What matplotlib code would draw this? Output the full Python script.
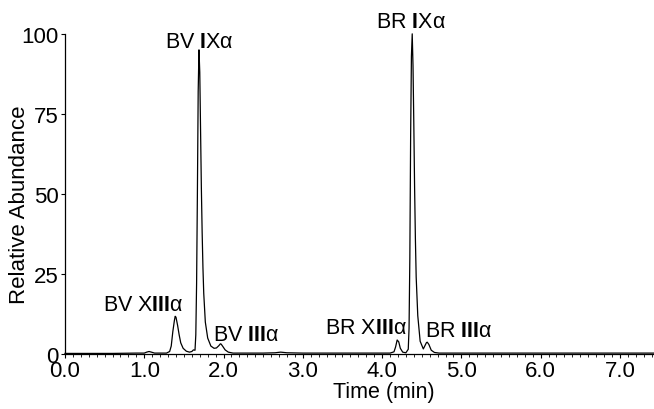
import matplotlib.pyplot as plt
from matplotlib.ticker import MultipleLocator

plt.rcParams['font.family'] = ['Liberation Sans', 'DejaVu Sans']
plt.rcParams['mathtext.fontset'] = 'custom'
plt.rcParams['mathtext.rm'] = 'Liberation Sans'
plt.rcParams['mathtext.bf'] = 'Liberation Sans:bold'

# trace (time in min, relative abundance in %)
time = [0.00, 0.30, 0.60, 0.90, 1.00, 1.03, 1.06, 1.09, 1.13, 1.20, 1.28, 1.32,
        1.34, 1.36, 1.38, 1.39, 1.40, 1.42, 1.44, 1.46, 1.49, 1.53, 1.57, 1.60,
        1.62, 1.64, 1.65, 1.66, 1.67, 1.68, 1.69, 1.70, 1.71, 1.72, 1.73, 1.74,
        1.75, 1.77, 1.80, 1.84, 1.88, 1.91, 1.94, 1.96, 1.97, 1.99, 2.02, 2.06,
        2.12, 2.30, 2.50, 2.65, 2.72, 2.80, 3.00, 3.30, 3.60, 3.90, 4.10, 4.15,
        4.17, 4.19, 4.21, 4.23, 4.26, 4.30, 4.33, 4.34, 4.35, 4.36, 4.37, 4.38,
        4.39, 4.40, 4.41, 4.42, 4.43, 4.45, 4.48, 4.52, 4.54, 4.56, 4.57, 4.59,
        4.62, 4.66, 4.72, 5.00, 5.50, 6.00, 6.50, 7.00, 7.43]
abundance = [0.2, 0.2, 0.2, 0.3, 0.3, 0.6, 0.8, 0.6, 0.3, 0.3, 0.3, 0.8,
             2.5, 7.0, 10.5, 11.8, 11.5, 9.0, 6.0, 3.5, 1.8, 0.9, 0.6, 0.8,
             1.3, 1.2, 6.0, 22.0, 50.0, 82.0, 95.0, 88.0, 70.0, 52.0, 38.0, 27.0,
             19.0, 10.0, 5.0, 2.5, 1.8, 1.9, 2.6, 3.2, 3.1, 2.4, 1.3, 0.6,
             0.3, 0.3, 0.3, 0.4, 0.6, 0.4, 0.3, 0.3, 0.3, 0.3, 0.3, 0.7,
             2.2, 4.4, 3.8, 1.8, 0.6, 0.4, 1.5, 8.0, 30.0, 68.0, 93.0, 100.0,
             90.0, 72.0, 52.0, 36.0, 24.0, 12.0, 4.0, 1.6, 2.6, 3.6, 3.7, 3.0,
             1.2, 0.5, 0.3, 0.3, 0.3, 0.3, 0.3, 0.3, 0.3]

peak_names = ['BV X$\\mathbf{III}$α', 'BV $\\mathbf{I}$Xα', 'BV $\\mathbf{III}$α',
              'BR X$\\mathbf{III}$α', 'BR $\\mathbf{I}$Xα', 'BR $\\mathbf{III}$α']
label_x = [0.99, 1.70, 2.28, 3.79, 4.37, 4.97]
label_y = [13.8, 96.0, 4.4, 6.6, 102.0, 5.6]

fig = plt.figure(figsize=(6.54, 4.10), dpi=100)
ax = fig.add_axes([0.0994, 0.134, 0.9006, 0.781])
ax.plot(time, abundance, color='black', lw=0.9, clip_on=False)

for name, x, y in zip(peak_names, label_x, label_y):
    ax.text(x, y, name, ha='center', va='baseline', fontsize=15.5, clip_on=False)

ax.set_xlim(0, 7.43)
ax.set_ylim(0, 100)
ax.set_xticks([0, 1, 2, 3, 4, 5, 6, 7])
ax.set_xticklabels(['0.0', '1.0', '2.0', '3.0', '4.0', '5.0', '6.0', '7.0'])
ax.xaxis.set_minor_locator(MultipleLocator(0.1))
ax.set_yticks([0, 25, 50, 75, 100])
ax.tick_params(axis='both', which='major', direction='out', length=3, width=0.8,
               labelsize=16, pad=1.5)
ax.tick_params(axis='x', which='minor', direction='out', length=2, width=0.6)
for s in ['top', 'right']:
    ax.spines[s].set_visible(False)
for s in ['left', 'bottom']:
    ax.spines[s].set_linewidth(0.9)

fig.text(384 / 654, 1 - 398 / 410, 'Time (min)', ha='center', va='baseline', fontsize=15.5)
fig.text(20 / 654, 0.5, 'Relative Abundance', ha='center', va='center',
         rotation=90, fontsize=16)

fig.savefig('out.png', dpi=100)
